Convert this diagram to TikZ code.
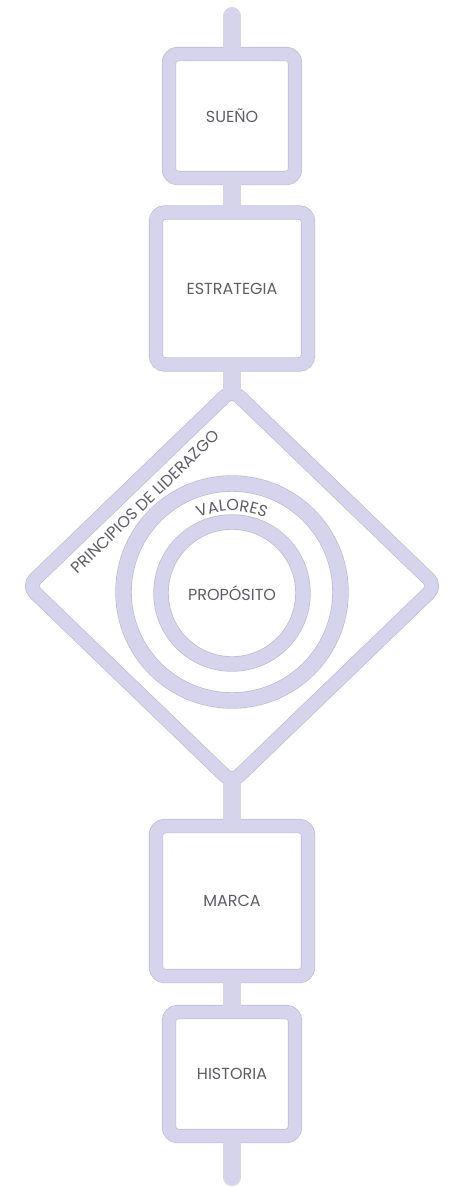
\documentclass[tikz,border=0pt]{standalone}
\usepackage{fontspec}
\setmainfont{Poppins}
\usetikzlibrary{shapes.geometric,decorations.text}
\definecolor{band}{HTML}{D6D4EC}
\definecolor{bandedge}{HTML}{BEBCD4}
\definecolor{txt}{HTML}{5E5E68}
\pgfdeclarelayer{background}
\pgfsetlayers{background,main}
\newcommand{\lblfont}{\fontsize{16}{18}\selectfont}
\begin{document}
\begin{tikzpicture}[x=1pt,y=-1pt,
  band/.style={draw=bandedge, line width=0.7pt, double=band, double distance=13pt, fill=white, inner sep=0pt, outer sep=0pt},
  boxa/.style={band, rectangle, rounded corners=9pt},
  lbl/.style={text=txt, font=\lblfont},
  stemedge/.style={line width=19.4pt, draw=bandedge},
  stem/.style={line width=18pt, draw=band},
]
\useasboundingbox[fill=white] (0,0) rectangle (453,1187);
\coordinate (top) at (232,16);
\coordinate (bot) at (232,1177);
\node[boxa, minimum width=126pt, minimum height=124pt, lbl] (sueno) at (232,116) {SUEÑO};
\node[boxa, minimum width=152pt, minimum height=152pt, lbl] (estr) at (232,288.5) {ESTRATEGIA};
\node[band, diamond, rounded corners=10pt, minimum width=408pt, minimum height=393pt] (dia) at (232,586) {};
\node[band, circle, double distance=15pt, minimum size=217pt] (valring) at (232,592) {};
\node[band, circle, double distance=14pt, minimum size=142pt, lbl] (propring) at (232,593) {PROPÓSITO};
\node[boxa, minimum width=152pt, minimum height=150pt, lbl] (marca) at (232,901) {MARCA};
\node[boxa, minimum width=126pt, minimum height=124pt, lbl] (hist) at (232,1074) {HISTORIA};
\node[lbl, rotate=44] (princ) at (145,502) {PRINCIPIOS DE LIDERAZGO};
\path[decorate, decoration={text along path, text align=center, text={|\lblfont\color{txt}|VALORES}}]
  (232,592) ++(200:81) arc[start angle=200, end angle=340, radius=81];
\begin{pgfonlayer}{background}
\draw[stemedge, line cap=round] (top) -- ([yshift=9pt]sueno.north);
\draw[stemedge] (sueno.south) -- (estr.north);
\draw[stemedge] (estr.south) -- (dia.north);
\draw[stemedge] (dia.south) -- (marca.north);
\draw[stemedge] (marca.south) -- (hist.north);
\draw[stemedge, line cap=round] ([yshift=-9pt]hist.south) -- (bot);
\end{pgfonlayer}
\draw[stem, line cap=round] (top) -- ([yshift=9pt]sueno.north);
\draw[stem] (sueno.south) -- (estr.north);
\draw[stem] (estr.south) -- (dia.north);
\draw[stem] (dia.south) -- (marca.north);
\draw[stem] (marca.south) -- (hist.north);
\draw[stem, line cap=round] ([yshift=-9pt]hist.south) -- (bot);
\end{tikzpicture}
\end{document}
